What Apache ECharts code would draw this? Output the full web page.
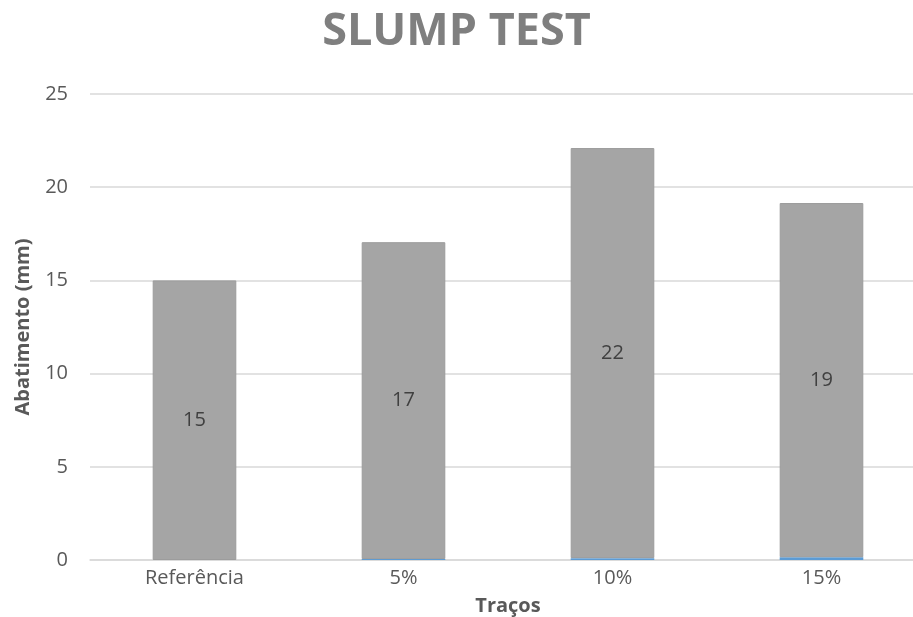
<!DOCTYPE html>
<html>
<head>
<meta charset="utf-8">
<script src="https://cdn.jsdelivr.net/npm/echarts@6/dist/echarts.min.js"></script>
<style>html,body{margin:0;padding:0;background:#fff}#c{width:913px;height:617px}</style>
</head>
<body>
<div id="c"></div>
<script>
const categories = ['Referência', '5%', '10%', '15%'];
const percentValues = [0, 0.05, 0.1, 0.15];
const slumpValues = [15, 17, 22, 19];
const yTicks = [0, 5, 10, 15, 20, 25];

const font = '"Open Sans", Lato, sans-serif';
const chart = echarts.init(document.getElementById('c'));
chart.setOption({
  animation: false,
  title: {
    text: 'SLUMP TEST',
    left: 'center',
    top: 5,
    textStyle: { fontFamily: font, fontSize: 45, fontWeight: 'bold', color: '#7f7f7f' }
  },
  grid: { left: 90, width: 836, top: 94, bottom: 57, outerBoundsMode: 'none', containLabel: false },
  xAxis: {
    type: 'category',
    data: categories,
    name: 'Traços',
    nameLocation: 'middle',
    nameGap: 36,
    nameTextStyle: { fontFamily: font, fontSize: 20, fontWeight: 'bold', color: '#595959' },
    axisLine: { lineStyle: { color: '#d9d9d9', width: 1.5 } },
    axisTick: { show: false },
    axisLabel: { fontFamily: font, fontSize: 20, color: '#595959', margin: 8 }
  },
  yAxis: {
    type: 'value',
    min: yTicks[0],
    max: yTicks[yTicks.length - 1],
    interval: 5,
    name: 'Abatimento (mm)',
    nameLocation: 'middle',
    nameGap: 57,
    nameTextStyle: { fontFamily: font, fontSize: 20, fontWeight: 'bold', color: '#595959' },
    axisLine: { show: false },
    axisTick: { show: false },
    axisLabel: { fontFamily: font, fontSize: 20, color: '#595959', margin: 22 },
    splitLine: { lineStyle: { color: '#d9d9d9', width: 1.5 } }
  },
  series: [
    {
      type: 'bar',
      stack: 'a',
      data: percentValues,
      barWidth: '40%',
      itemStyle: { color: '#5b9bd5' }
    },
    {
      type: 'bar',
      stack: 'a',
      data: slumpValues,
      barWidth: '40%',
      itemStyle: { color: '#a5a5a5', borderColor: '#9c9c9c', borderWidth: 1 },
      label: {
        show: true,
        position: 'inside',
        fontFamily: font,
        fontSize: 20,
        color: '#404040'
      }
    }
  ]
});
</script>
</body>
</html>
